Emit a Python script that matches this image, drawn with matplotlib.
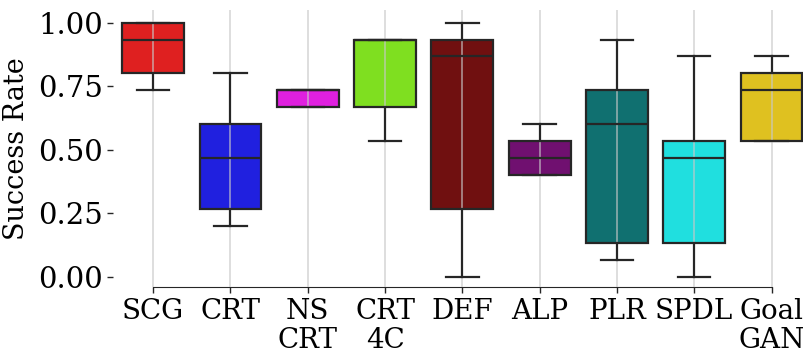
import colorsys
import matplotlib
matplotlib.use("Agg")
import matplotlib.pyplot as plt
import matplotlib.colors as mcolors

labels = ["SCG", "CRT", "NS\nCRT", "CRT\n4C", "DEF", "ALP", "PLR", "SPDL", "Goal\nGAN"]
base_colors = ["red", "blue", "magenta", "chartreuse", "maroon", "purple", "teal", "cyan", "gold"]

# box statistics
whislo = [0.733, 0.200, 0.667, 0.533, 0.000, 0.400, 0.067, 0.000, 0.533]
q1 = [0.800, 0.267, 0.667, 0.667, 0.267, 0.400, 0.133, 0.133, 0.533]
med = [0.933, 0.467, 0.733, 0.933, 0.867, 0.467, 0.600, 0.467, 0.733]
q3 = [1.000, 0.600, 0.733, 0.933, 0.933, 0.533, 0.733, 0.533, 0.800]
whishi = [1.000, 0.800, 0.733, 0.933, 1.000, 0.600, 0.933, 0.867, 0.867]


def desaturate(name, prop=0.75):
    r, g, b = mcolors.to_rgb(name)
    h, l, s = colorsys.rgb_to_hls(r, g, b)
    return colorsys.hls_to_rgb(h, l, s * prop)


plt.rcParams["font.family"] = "DejaVu Serif"

fig = plt.figure(figsize=(8.04, 3.53), dpi=100)
ax = fig.add_axes([0.1405, 0.187, 0.8595, 0.785])

stats = []
for i in range(len(labels)):
    stats.append({
        "whislo": whislo[i], "q1": q1[i], "med": med[i],
        "q3": q3[i], "whishi": whishi[i], "fliers": [],
    })

line = dict(color="#262626", linewidth=1.6, zorder=3)
bp = ax.bxp(stats, positions=range(len(labels)), widths=0.8,
            patch_artist=True, showfliers=False,
            boxprops=dict(edgecolor="#262626", linewidth=1.6, zorder=1),
            medianprops=line, whiskerprops=line, capprops=line)
for patch, c in zip(bp["boxes"], base_colors):
    patch.set_facecolor(desaturate(c))
for cap in bp["caps"]:
    x0, x1 = cap.get_xdata()
    mid = (x0 + x1) / 2
    cap.set_xdata([mid - 0.21, mid + 0.21])

ax.set_xlim(-0.52, 8.42)
ax.set_ylim(-0.04, 1.05)
ax.set_xticks(range(len(labels)))
ax.set_xticklabels(labels, fontsize=20, linespacing=1.1)
ax.set_yticks([0, 0.25, 0.5, 0.75, 1.0])
ax.set_yticklabels(["0.00", "0.25", "0.50", "0.75", "1.00"], fontsize=21)
ax.set_ylabel("Success Rate", fontsize=19.5, labelpad=6)

ax.set_axisbelow(False)
ax.xaxis.grid(True, color="#c8c8c8", linewidth=1.2, alpha=0.7, zorder=2)
ax.yaxis.grid(False)

for side in ["top", "right", "left"]:
    ax.spines[side].set_visible(False)
ax.spines["bottom"].set_bounds(0, len(labels) - 1)
ax.spines["bottom"].set_color("#262626")
ax.tick_params(axis="both", colors="#262626", length=4, width=1)
ax.tick_params(axis="x", pad=4)
ax.tick_params(axis="y", pad=3)
ax.tick_params(axis="both", labelcolor="black")

fig.savefig("out.png", dpi=100)
